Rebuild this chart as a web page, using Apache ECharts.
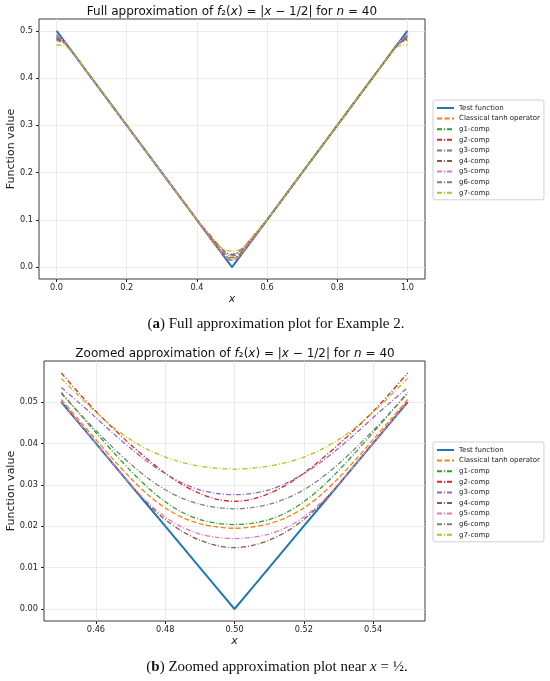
<!DOCTYPE html>
<html>
<head>
<meta charset="utf-8">
<title>Approximation of f2(x) = |x - 1/2|</title>
<script src="https://cdn.jsdelivr.net/npm/echarts@6/dist/echarts.min.js"></script>
<style>
  html, body { margin: 0; padding: 0; background: #fff; }
  #main { width: 550px; height: 681px; }
</style>
</head>
<body>
<div id="main"></div>
<script>
// series names and colours (matplotlib tab10)
var names = ['Test function', 'Classical tanh operator', 'g1-comp', 'g2-comp', 'g3-comp',
             'g4-comp', 'g5-comp', 'g6-comp', 'g7-comp'];
var colors = ['#1f77b4', '#ff7f0e', '#2ca02c', '#d62728', '#9467bd',
              '#8c564b', '#e377c2', '#7f7f7f', '#bcbd22'];

// tick labels
var fullXTicks = [0, 0.2, 0.4, 0.6, 0.8, 1.0];
var fullYTicks = [0, 0.1, 0.2, 0.3, 0.4, 0.5];
var zoomXTicks = [0.46, 0.48, 0.50, 0.52, 0.54];
var zoomYTicks = [0, 0.01, 0.02, 0.03, 0.04, 0.05];

// x samples: zoomed window around 1/2, plus the outer parts of [0, 1]
var xZoom = [0.45, 0.455, 0.46, 0.465, 0.47, 0.475, 0.48, 0.485, 0.49, 0.495, 0.5,
             0.505, 0.51, 0.515, 0.52, 0.525, 0.53, 0.535, 0.54, 0.545, 0.55];
var xLeft = [0, 0.025, 0.05, 0.075, 0.1, 0.2, 0.3, 0.4];
var xRight = [0.6, 0.7, 0.8, 0.9, 0.925, 0.95, 0.975, 1];

// values
var testZoom  = [0.05, 0.045, 0.04, 0.035, 0.03, 0.025, 0.02, 0.015, 0.01, 0.005, 0,
                 0.005, 0.01, 0.015, 0.02, 0.025, 0.03, 0.035, 0.04, 0.045, 0.05];
var tanhZoom  = [0.0506, 0.0457, 0.0409, 0.0361, 0.0316, 0.0276, 0.0244, 0.0221, 0.0206, 0.0198, 0.0195,
                 0.0198, 0.0206, 0.0221, 0.0244, 0.0276, 0.0316, 0.0361, 0.0409, 0.0457, 0.0506];
var g1Zoom    = [0.0523, 0.0474, 0.0426, 0.0379, 0.0334, 0.0293, 0.0259, 0.0233, 0.0216, 0.0207, 0.0204,
                 0.0207, 0.0216, 0.0233, 0.0259, 0.0293, 0.0334, 0.0379, 0.0426, 0.0474, 0.0523];
var g2Zoom    = [0.0570, 0.0522, 0.0477, 0.0436, 0.0397, 0.0361, 0.0328, 0.0300, 0.0279, 0.0265, 0.0260,
                 0.0265, 0.0279, 0.0300, 0.0328, 0.0361, 0.0397, 0.0436, 0.0477, 0.0522, 0.0570];
var g3Zoom    = [0.0535, 0.0499, 0.0462, 0.0424, 0.0388, 0.0355, 0.0327, 0.0304, 0.0288, 0.0279, 0.0276,
                 0.0279, 0.0288, 0.0304, 0.0327, 0.0355, 0.0388, 0.0424, 0.0462, 0.0499, 0.0535];
var g4Zoom    = [0.0501, 0.0450, 0.0400, 0.0350, 0.0300, 0.0254, 0.0216, 0.0187, 0.0166, 0.0153, 0.0148,
                 0.0153, 0.0166, 0.0187, 0.0216, 0.0254, 0.0300, 0.0350, 0.0400, 0.0450, 0.0501];
var g5Zoom    = [0.0502, 0.0451, 0.0400, 0.0350, 0.0301, 0.0257, 0.0222, 0.0197, 0.0181, 0.0173, 0.0170,
                 0.0173, 0.0181, 0.0197, 0.0222, 0.0257, 0.0301, 0.0350, 0.0400, 0.0451, 0.0502];
var g6Zoom    = [0.0520, 0.0475, 0.0431, 0.0389, 0.0350, 0.0316, 0.0288, 0.0267, 0.0253, 0.0245, 0.0242,
                 0.0245, 0.0253, 0.0267, 0.0288, 0.0316, 0.0350, 0.0389, 0.0431, 0.0475, 0.0520];
var g7Zoom    = [0.0557, 0.0515, 0.0475, 0.0439, 0.0409, 0.0385, 0.0367, 0.0354, 0.0345, 0.0340, 0.0338,
                 0.0340, 0.0345, 0.0354, 0.0367, 0.0385, 0.0409, 0.0439, 0.0475, 0.0515, 0.0557];

// values, outside the zoomed window
var testLeft  = [0.5, 0.475, 0.45, 0.425, 0.4, 0.3, 0.2, 0.1];
var testRight = [0.1, 0.2, 0.3, 0.4, 0.425, 0.45, 0.475, 0.5];
var tanhLeft  = [0.486, 0.4735, 0.4498, 0.4250, 0.4000, 0.3000, 0.2000, 0.1001];
var tanhRight = [0.1001, 0.2000, 0.3000, 0.4000, 0.4250, 0.4498, 0.4735, 0.486];
var g1Left    = [0.484, 0.4733, 0.4497, 0.4250, 0.4000, 0.3000, 0.2000, 0.1003];
var g1Right   = [0.1003, 0.2000, 0.3000, 0.4000, 0.4250, 0.4497, 0.4733, 0.484];
var g2Left    = [0.490, 0.4742, 0.4500, 0.4251, 0.4001, 0.3000, 0.2000, 0.1004];
var g2Right   = [0.1004, 0.2000, 0.3000, 0.4001, 0.4251, 0.4500, 0.4742, 0.490];
var g3Left    = [0.488, 0.4740, 0.4499, 0.4250, 0.4000, 0.3000, 0.2000, 0.1003];
var g3Right   = [0.1003, 0.2000, 0.3000, 0.4000, 0.4250, 0.4499, 0.4740, 0.488];
var g4Left    = [0.483, 0.4730, 0.4497, 0.4249, 0.4000, 0.3000, 0.2000, 0.1000];
var g4Right   = [0.1000, 0.2000, 0.3000, 0.4000, 0.4249, 0.4497, 0.4730, 0.483];
var g5Left    = [0.492, 0.4745, 0.4500, 0.4250, 0.4000, 0.3000, 0.2000, 0.1000];
var g5Right   = [0.1000, 0.2000, 0.3000, 0.4000, 0.4250, 0.4500, 0.4745, 0.492];
var g6Left    = [0.480, 0.4725, 0.4495, 0.4249, 0.4000, 0.3000, 0.2000, 0.1002];
var g6Right   = [0.1002, 0.2000, 0.3000, 0.4000, 0.4249, 0.4495, 0.4725, 0.480];
var g7Left    = [0.470, 0.4680, 0.4485, 0.4248, 0.4000, 0.3000, 0.2000, 0.1003];
var g7Right   = [0.1003, 0.2000, 0.3000, 0.4000, 0.4248, 0.4485, 0.4680, 0.470];

var zoomSets  = [testZoom, tanhZoom, g1Zoom, g2Zoom, g3Zoom, g4Zoom, g5Zoom, g6Zoom, g7Zoom];
var leftSets  = [testLeft, tanhLeft, g1Left, g2Left, g3Left, g4Left, g5Left, g6Left, g7Left];
var rightSets = [testRight, tanhRight, g1Right, g2Right, g3Right, g4Right, g5Right, g6Right, g7Right];

var font = 'DejaVu Sans';
var serif = 'Liberation Serif';
var dashDot = [5, 2, 1, 2];

function pairs(xs, ys) {
    return xs.map(function(x, i) { return [x, ys[i]]; });
}

// label only the "nice" ticks, never the padded axis ends
function tickFmt(step, digits) {
    return function(v) {
        var k = v / step;
        return Math.abs(k - Math.round(k)) < 1e-6 ? v.toFixed(digits) : '';
    };
}

function makeSeries(gridIdx) {
    return names.map(function(name, i) {
        var data;
        if (gridIdx === 0) {
            data = pairs(xLeft.concat(xZoom, xRight),
                         leftSets[i].concat(zoomSets[i], rightSets[i]));
        } else {
            data = pairs(xZoom, zoomSets[i]);
        }
        return {
            name: name,
            type: 'line',
            xAxisIndex: gridIdx,
            yAxisIndex: gridIdx,
            data: data,
            showSymbol: false,
            symbol: 'none',
            smooth: i === 0 ? false : 0.3,
            animation: false,
            lineStyle: {
                color: colors[i],
                width: i === 0 ? 2 : 1.3,
                type: i === 0 ? 'solid' : (i === 1 ? [5, 2.5] : dashDot),
                cap: 'butt'
            },
            itemStyle: { color: colors[i] }
        };
    });
}

function xAxis(gridIdx, min, max, ticks, step, digits) {
    return {
        gridIndex: gridIdx,
        type: 'value',
        position: 'bottom',
        min: min,
        max: max,
        splitNumber: 5,
        name: 'x',
        nameLocation: 'middle',
        nameGap: 15,
        nameMoveOverlap: false,
        nameTextStyle: { fontFamily: font, fontStyle: 'italic', fontSize: 11, color: '#222' },
        axisLine: { show: false, onZero: false },
        axisTick: { show: true, inside: false, length: 3, customValues: ticks,
                    lineStyle: { color: '#222', width: 1 } },
        axisLabel: { fontFamily: font, fontSize: 8.2, color: '#222', margin: 4.5, customValues: ticks,
                     formatter: tickFmt(step, digits) },
        splitLine: { show: true, lineStyle: { color: '#e6e6e6', width: 0.8 } }
    };
}

function yAxis(gridIdx, min, max, ticks, step, digits, gap) {
    return {
        gridIndex: gridIdx,
        type: 'value',
        position: 'left',
        min: min,
        max: max,
        splitNumber: 5,
        name: 'Function value',
        nameLocation: 'middle',
        nameRotate: 90,
        nameGap: gap,
        nameMoveOverlap: false,
        nameTextStyle: { fontFamily: font, fontSize: 11, color: '#222' },
        axisLine: { show: false, onZero: false },
        axisTick: { show: true, inside: false, length: 3, customValues: ticks,
                    lineStyle: { color: '#222', width: 1 } },
        axisLabel: { fontFamily: font, fontSize: 8.2, color: '#222', margin: 6, customValues: ticks,
                     formatter: tickFmt(step, digits) },
        splitLine: { show: true, lineStyle: { color: '#e6e6e6', width: 0.8 } }
    };
}

function legend(top) {
    return {
        data: names,
        orient: 'vertical',
        left: 433,
        top: top,
        itemWidth: 17,
        itemHeight: 8,
        itemGap: 2.6,
        padding: [4, 4, 3, 3],
        backgroundColor: '#fff',
        borderColor: '#d0d0d0',
        borderWidth: 1,
        borderRadius: 2,
        selectedMode: false,
        itemStyle: { opacity: 0 },
        textStyle: { fontFamily: font, fontSize: 7, color: '#222', lineHeight: 8 }
    };
}

var richMath = {
    i: { fontFamily: font, fontStyle: 'italic', fontSize: 12, color: '#111' }
};
var richCap = {
    b: { fontFamily: serif, fontWeight: 'bold', fontSize: 15, color: '#111' },
    i: { fontFamily: serif, fontStyle: 'italic', fontSize: 15, color: '#111' }
};

var chart = echarts.init(document.getElementById('main'));

var option = {
    backgroundColor: '#fff',
    animation: false,
    title: [{
        text: 'Full approximation of {i|f}₂({i|x}) = |{i|x} − 1/2| for {i|n} = 40',
        left: 232, top: 6, textAlign: 'center', padding: 0,
        textStyle: { fontFamily: font, fontSize: 12, fontWeight: 'normal', color: '#111', rich: richMath }
    }, {
        text: 'Zoomed approximation of {i|f}₂({i|x}) = |{i|x} − 1/2| for {i|n} = 40',
        left: 235, top: 347.5, textAlign: 'center', padding: 0,
        textStyle: { fontFamily: font, fontSize: 12, fontWeight: 'normal', color: '#111', rich: richMath }
    }, {
        text: '({b|a}) Full approximation plot for Example 2.',
        left: 276, top: 317, textAlign: 'center', padding: 0,
        textStyle: { fontFamily: serif, fontSize: 15, fontWeight: 'normal', color: '#111', rich: richCap }
    }, {
        text: '({b|b}) Zoomed approximation plot near {i|x} = ½.',
        left: 277, top: 660, textAlign: 'center', padding: 0,
        textStyle: { fontFamily: serif, fontSize: 15, fontWeight: 'normal', color: '#111', rich: richCap }
    }],
    legend: [legend(100), legend(442)],
    grid: [
        { left: 39, top: 19, width: 386, height: 260, show: true, containLabel: false,
          outerBoundsMode: 'none', borderColor: '#3a3a3a', borderWidth: 1 },
        { left: 44, top: 361, width: 381, height: 260, show: true, containLabel: false,
          outerBoundsMode: 'none', borderColor: '#3a3a3a', borderWidth: 1 }
    ],
    xAxis: [
        xAxis(0, -0.05, 1.05, fullXTicks, 0.2, 1),
        xAxis(1, 0.445, 0.555, zoomXTicks, 0.02, 2)
    ],
    yAxis: [
        yAxis(0, -0.025, 0.525, fullYTicks, 0.1, 1, 22.5),
        yAxis(1, -0.0029, 0.0599, zoomYTicks, 0.01, 2, 27.5)
    ],
    series: makeSeries(0).concat(makeSeries(1))
};

chart.setOption(option);
</script>
</body>
</html>
